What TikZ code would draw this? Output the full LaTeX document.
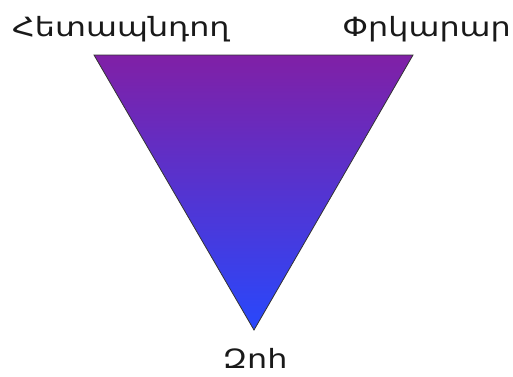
\documentclass[tikz,border=0pt]{standalone}
\usepackage{fontspec}
\newfontfamily\armfont{DejaVu Sans}
\newcommand{\widetxt}[1]{\scalebox{1.2}[1]{#1}}
\begin{document}
\begin{tikzpicture}[x=1pt,y=-1pt,
  lbl/.style={font=\armfont\fontsize{26.5}{30}\selectfont, text=black!90, inner sep=0pt}]
\useasboundingbox (0,0) rectangle (513,376);
\coordinate (tl) at (94,55);
\coordinate (tr) at (413,55);
\coordinate (bt) at (254,330);
\shade[top color={rgb,255:red,128;green,32;blue,166}, bottom color={rgb,255:red,40;green,72;blue,252}]
  (tl) -- (tr) -- (bt) -- cycle;
\draw[line width=0.8pt, black!80, line join=miter] (tl) -- (tr) -- (bt) -- cycle;
\node[lbl, anchor=base west] (p) at (12,36) {\widetxt{Հետապնդող}};
\node[lbl, anchor=base east] (r) at (511,36) {\widetxt{Փրկարար}};
\node[lbl, anchor=base] (v) at (255,368) {\widetxt{Զոհ}};
\end{tikzpicture}
\end{document}
